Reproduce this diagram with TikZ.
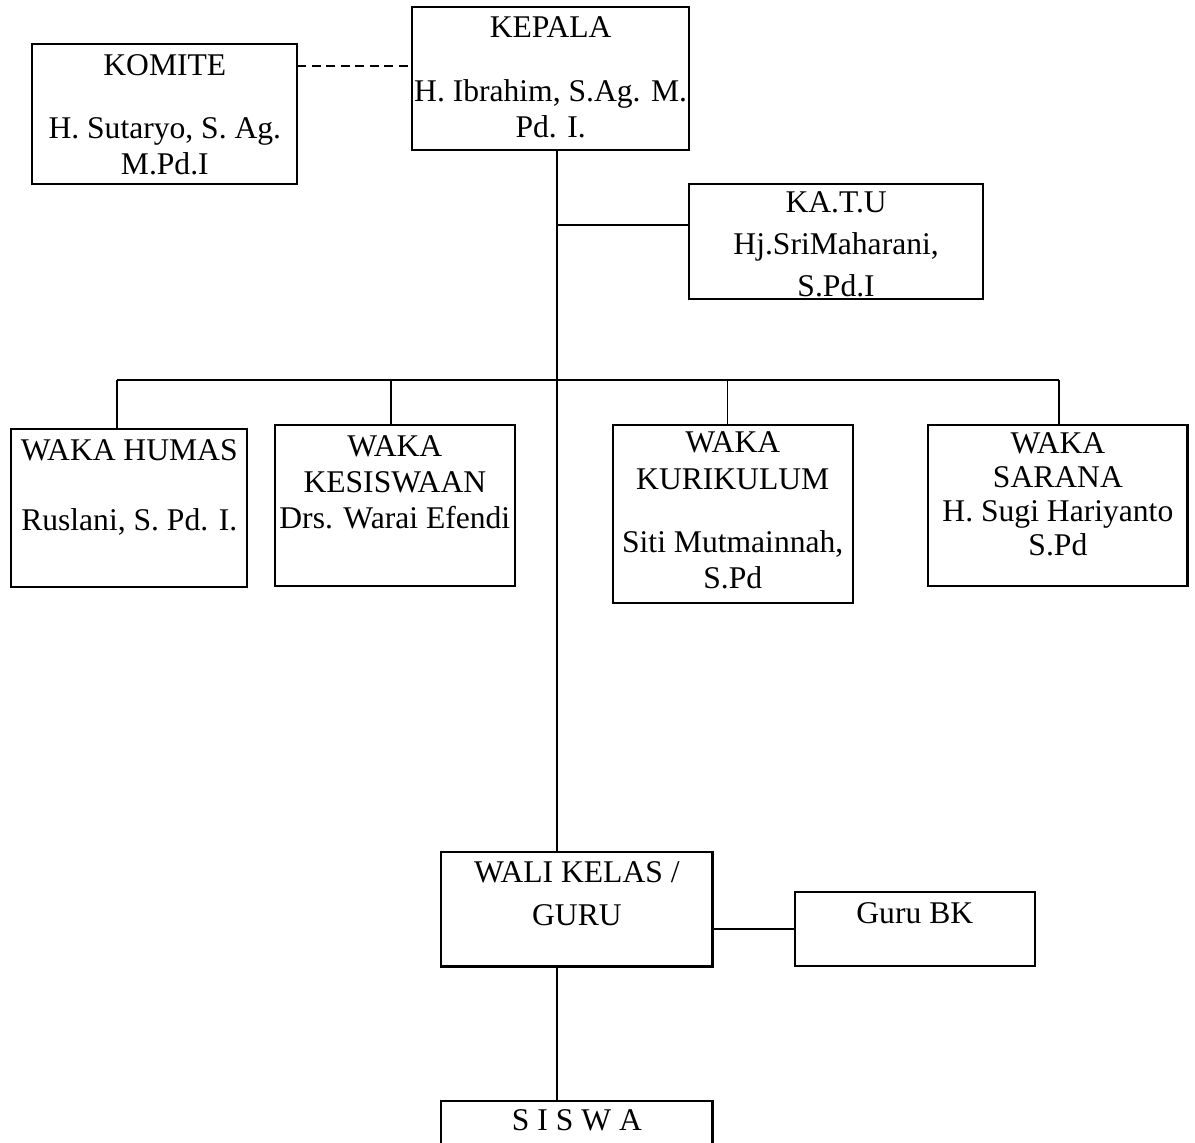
\documentclass[tikz,border=0pt]{standalone}
\usepackage{fontspec}
\setmainfont{Liberation Serif}

\begin{document}
\begin{tikzpicture}[
  every node/.style={align=center, font=\fontsize{12}{13.7}\selectfont},
  unit/.style={
    rectangle, draw=black, line width=0.8pt, inner sep=0pt, outer sep=0pt,
    anchor=north west
  },
  link/.style={draw=black, line width=0.7pt},
  dotlink/.style={link, dash pattern=on 3.4pt off 2.1pt},
]
\useasboundingbox (0,0) rectangle (15.95,-15.25);
\clip (0,0) rectangle (15.95,-15.25);

\node[unit, minimum width=3.54cm, text height=1.74cm, text depth=0.13cm] (komite)    at (0.43,-0.59)   {KOMITE\\[0.36cm]H. Sutaryo, S. Ag.\\M.Pd.I};
\node[unit, minimum width=3.70cm, text height=1.75cm, text depth=0.16cm] (kepala)    at (5.50,-0.09)   {KEPALA\\[0.37cm]H. Ibrahim, S.Ag. M.\\Pd. I.};
\node[unit, minimum width=3.92cm, text height=1.50cm, text depth=0.03cm] (katu)      at (9.20,-2.46)   {KA.T.U\\[0.08cm]Hj.SriMaharani,\\[0.08cm]S.Pd.I};
\node[unit, minimum width=3.15cm, text height=1.35cm, text depth=0.75cm] (humas)     at (0.15,-5.73)   {WAKA HUMAS\\[0.45cm]Ruslani, S. Pd. I.};
\node[unit, minimum width=3.20cm, text height=1.39cm, text depth=0.76cm] (kesiswaan) at (3.67,-5.67)   {WAKA\\KESISWAAN\\Drs. Warai Efendi};
\node[unit, minimum width=3.20cm, text height=2.19cm, text depth=0.19cm] (kurikulum) at (8.18,-5.67)   {WAKA\\KURIKULUM\\[0.37cm]Siti Mutmainnah,\\S.Pd};
\node[unit, minimum width=3.46cm, text height=1.74cm, text depth=0.41cm] (sarana)    at (12.39,-5.67)  {WAKA\\[-0.03cm]SARANA\\[-0.03cm]H. Sugi Hariyanto\\[-0.03cm]S.Pd};
\node[unit, minimum width=3.62cm, text height=0.98cm, text depth=0.55cm] (wali)      at (5.89,-11.37)  {WALI KELAS /\\[0.09cm]GURU};
\node[unit, minimum width=3.20cm, text height=0.41cm, text depth=0.57cm] (gurubk)    at (10.61,-11.91) {Guru BK};
\node[unit, minimum width=3.62cm, text height=0.40cm, text depth=0.93cm] (siswa)     at (5.89,-14.69)  {S I S W A};

\coordinate (spine) at (7.44,0);
\coordinate (dash) at (0,-0.88);
\coordinate (tuline) at (0,-3.00);
\coordinate (bus-humas) at (1.56,-5.07);
\coordinate (bus-kesiswaan) at (5.22,-5.07);
\coordinate (bus-kurikulum) at (9.71,-5.07);
\coordinate (bus-sarana) at (14.14,-5.07);

\draw[dotlink] (komite.east |- dash) -- (kepala.west |- dash);
\draw[link] (kepala.south -| spine) -- (wali.north -| spine);
\draw[link] (spine |- tuline) -- (katu.west |- tuline);
\draw[link] (bus-humas) -- (bus-sarana);
\foreach \n in {humas, kesiswaan, kurikulum, sarana}
  \draw[link] (bus-\n) -- (bus-\n |- \n.north);
\draw[link] (wali.east |- gurubk.west) -- (gurubk.west);
\draw[link] (wali.south -| spine) -- (siswa.north -| spine);
\end{tikzpicture}
\end{document}
